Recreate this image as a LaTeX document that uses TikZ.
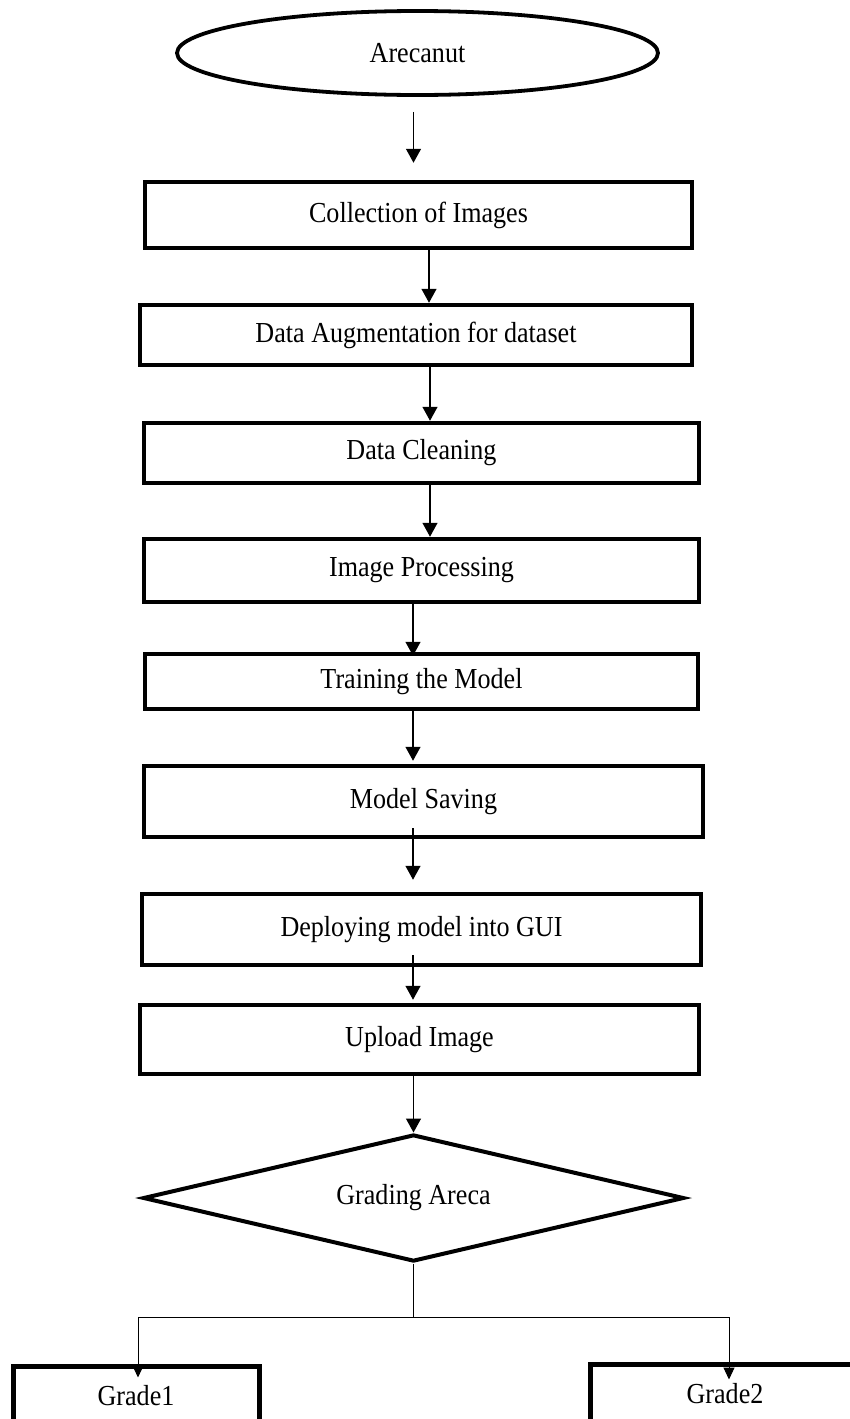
\documentclass[tikz,border=0pt]{standalone}
\usepackage{fontspec}
\setmainfont[FakeStretch=0.9]{Liberation Serif}
\usetikzlibrary{shapes.geometric,arrows.meta}
\tikzset{
  stagebox/.style={
    rectangle,
    draw,
    line width=2.25pt,
    inner sep=0mm,
    font=\fontsize{14.5}{17}\selectfont
  },
  termbox/.style={
    ellipse,
    draw,
    line width=1.9pt,
    inner sep=0mm,
    minimum width=240.5pt,
    minimum height=42pt,
    font=\fontsize{14.5}{17}\selectfont
  },
  decisionbox/.style={
    diamond,
    draw,
    line width=2pt,
    inner sep=0mm,
    aspect=4.26,
    minimum width=270.5pt,
    minimum height=63.5pt,
    font=\fontsize{14.5}{17}\selectfont
  },
  gradebox/.style={
    stagebox,
    line width=2.5pt,
    minimum height=30pt
  },
  arr/.style={
    -{Triangle[length=7pt,width=7.5pt]},
    line width=0.7pt
  },
  branch/.style={
    line width=0.5pt
  }
}

\begin{document}
\begin{tikzpicture}[x=0.5pt,y=-0.5pt]
    \useasboundingbox (0,0) rectangle (850,1419);
    \node[termbox] (nut) at (417.5,53) {Arecanut};
    \node[stagebox,minimum width=273.5pt,minimum height=33pt] (collect) at (418.5,215) {Collection of Images};
    \node[stagebox,minimum width=276pt,minimum height=30pt] (augment) at (416,335) {Data Augmentation for dataset};
    \node[stagebox,minimum width=277.5pt,minimum height=30pt] (clean) at (421.5,453) {Data Cleaning};
    \node[stagebox,minimum width=277.5pt,minimum height=31.5pt] (process) at (421.5,570.5) {Image Processing};
    \node[stagebox,minimum width=276.5pt,minimum height=27.5pt] (train) at (421.5,681.5) {Training the Model};
    \node[stagebox,minimum width=279.5pt,minimum height=35.5pt] (save) at (423.5,801.5) {Model Saving};
    \node[stagebox,minimum width=279.5pt,minimum height=35.5pt] (deploy) at (421.5,929.5) {Deploying model into GUI};
    \node[stagebox,minimum width=279.5pt,minimum height=34.5pt] (upload) at (419.5,1039.5) {Upload Image};
    \node[decisionbox] (grading) at (413.5,1198) {Grading Areca};
    \node[gradebox,minimum width=123pt] (gradeA) at (136,1396) {Grade1};
    \node[gradebox,minimum width=135pt] (gradeB) at (725,1394) {Grade2};
    \coordinate (split) at (413.5,1317);

    \draw[arr,shorten <=7.5pt,shorten >=8.5pt] (nut.south -| 413.5,0) -- (collect.north -| 413.5,0);
    \draw[arr] (collect.south -| 429,0) -- (augment.north -| 429,0);
    \draw[arr] (augment.south -| 430,0) -- (clean.north -| 430,0);
    \draw[arr] (clean.south -| 430,0) -- (process.north -| 430,0);
    \draw[arr,shorten >=-2pt] (process.south -| 413,0) -- (train.north -| 413,0);
    \draw[arr,shorten >=1.5pt] (train.south -| 413,0) -- (save.north -| 413,0);
    \draw[arr,shorten <=-5.5pt,shorten >=6pt] (save.south -| 413,0) -- (deploy.north -| 413,0);
    \draw[arr,shorten <=-6pt,shorten >=1.5pt] (deploy.south -| 413,0) -- (upload.north -| 413,0);
    \draw[arr] (upload.south -| 413.5,0) -- (grading.north);
    \draw[branch] (grading.south) -- (split);
    \draw[branch,-{Triangle[length=6pt,width=5.5pt]},shorten >=-7pt] (split) -| (gradeA.north -| 138,0);
    \draw[branch,-{Triangle[length=6pt,width=5.5pt]},shorten >=-9pt] (split) -| (gradeB.north -| 729,0);
\end{tikzpicture}
\end{document}
